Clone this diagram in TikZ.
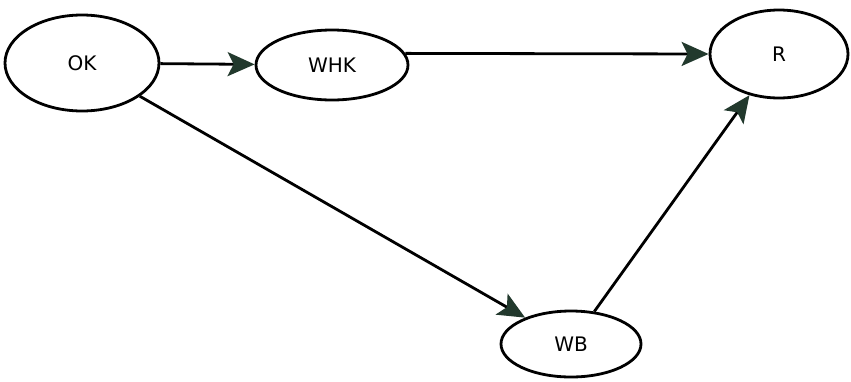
\documentclass[tikz,border=0pt]{standalone}
\usepackage{fontspec}
\setmainfont{DejaVu Sans}
\usetikzlibrary{shapes.geometric,arrows.meta}
\definecolor{tipgreen}{HTML}{22392D}

\begin{document}
\begin{tikzpicture}[x=1pt,y=-1pt]
        \tikzstyle{every node}=[ellipse,draw,line width=2.8pt,inner sep=0pt,font=\fontsize{20}{24}\selectfont]
        \tikzstyle{link}=[line width=2.8pt,-{Stealth[length=27pt,width=24pt,inset=6pt,color=tipgreen]}]
        \useasboundingbox (0,0) rectangle (851,381);
        \node[minimum width=154pt,minimum height=96pt] (OK) at (82,63) {OK};
        \node[minimum width=152pt,minimum height=70pt] (WHK) at (332,65) {WHK};
        \node[minimum width=138pt,minimum height=88pt] (R) at (779,54) {R};
        \node[minimum width=140pt,minimum height=66pt] (WB) at (571,344) {WB};
        \draw[link] (OK) -- (WHK);
        \draw[link] (WHK.9) -- (R.west);
        \draw[link] (OK) -- (WB);
        \draw[link] (WB) -- (R);
    \end{tikzpicture}
\end{document}
